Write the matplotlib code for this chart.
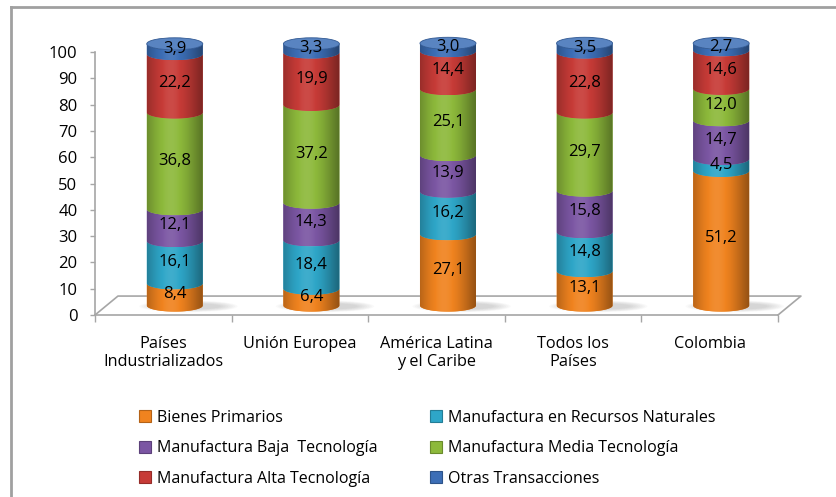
import numpy as np
import matplotlib
matplotlib.use("Agg")
import matplotlib.pyplot as plt
from matplotlib.path import Path
from matplotlib.patches import PathPatch, Ellipse
from matplotlib.lines import Line2D
from matplotlib.colors import to_rgb

plt.rcParams["font.family"] = ["Open Sans", "DejaVu Sans"]

# shares by product group (%)
categories = ["Países\nIndustrializados", "Unión Europea", "América Latina\ny el Caribe",
              "Todos los\nPaíses", "Colombia"]
series_names = ["Bienes Primarios", "Manufactura en Recursos Naturales",
                "Manufactura Baja  Tecnología", "Manufactura Media Tecnología",
                "Manufactura Alta Tecnología", "Otras Transacciones"]
bienes = [8.4, 6.4, 27.1, 13.1, 51.2]
recursos = [16.1, 18.4, 16.2, 14.8, 4.5]
baja = [12.1, 14.3, 13.9, 15.8, 14.7]
media = [36.8, 37.2, 25.1, 29.7, 12.0]
alta = [22.2, 19.9, 14.4, 22.8, 14.6]
otras = [3.9, 3.3, 3.0, 3.5, 2.7]
y_ticks = list(range(0, 101, 10))

series = [bienes, recursos, baja, media, alta, otras]
colors = ["#F0831F", "#2EA6C8", "#7B56A3", "#8DB93B", "#C73B37", "#3C6EB6"]
gray = "#A6A6A6"

# fake 3d: floor depth and cylinder size, in data units
depth_x, depth_y = 0.168, 7.2
rad, cap = 0.205, 2.3


def shaded(color, n=64):
    # horizontal lighting across the cylinder face
    t = np.linspace(0, 1, n)
    f = 0.74 + 0.3 * np.cos((t - 0.42) * 1.1 * np.pi)
    rgb = np.array(to_rgb(color))
    img = np.empty((1, n, 3))
    for i, v in enumerate(f):
        if v <= 1:
            img[0, i] = rgb * v
        else:
            img[0, i] = rgb + (1 - rgb) * (v - 1) * 2
    return np.clip(img, 0, 1)


def segment_path(cx, y0, y1):
    th = np.linspace(np.pi, 2 * np.pi, 40)
    lower = np.column_stack([cx + rad * np.cos(th), y0 + cap * np.sin(th)])
    upper = np.column_stack([cx + rad * np.cos(th[::-1]), y1 + cap * np.sin(th[::-1])])
    return Path(np.vstack([lower, upper, lower[:1]]), closed=True)


fig = plt.figure(figsize=(8.37, 4.97), dpi=100)
ppx = 136.6          # pixels per category
ppy = 2.63           # pixels per percent
ymax = 106
ax = fig.add_axes([95 / 837, (497 - 315) / 497, 5.2 * ppx / 837, ymax * ppy / 497])

base = depth_y / 2
for i in range(len(categories)):
    cx = i + 0.5 + depth_x / 2

    # soft shadow on the floor, pushed to the right
    for k in range(8):
        ax.add_patch(Ellipse((cx + 0.1, base - 0.3), 0.72 - k * 0.035, 4.4 - k * 0.3,
                             fc="#808080", ec="none", alpha=0.045, zorder=2))

    bottom = base
    for s, vals in enumerate(series):
        v = vals[i]
        top = bottom + v
        path = segment_path(cx, bottom, top)
        patch = PathPatch(path, fc=colors[s], ec="none", transform=ax.transData, zorder=3)
        ax.add_patch(patch)
        im = ax.imshow(shaded(colors[s]), extent=(cx - rad, cx + rad, bottom - cap, top),
                       aspect="auto", interpolation="bilinear", zorder=3.5)
        im.set_clip_path(patch)
        ax.text(cx, bottom + v / 2, f"{v:.1f}".replace(".", ","), ha="center", va="center",
                fontsize=12, color="black", zorder=5)
        bottom = top

    top_rgb = np.array(to_rgb(colors[-1]))
    ax.add_patch(Ellipse((cx, bottom), 2 * rad, 2 * cap,
                         fc=top_rgb + (1 - top_rgb) * 0.15, ec=top_rgb * 0.8, lw=0.6, zorder=4))

# floor outline
n = len(categories)
ax.plot([0, depth_x, n + depth_x, n], [0, depth_y, depth_y, 0], color=gray, lw=1.2,
        zorder=1, clip_on=False)

ax.set_xlim(0, 5.2)
ax.set_ylim(0, ymax)
for side in ["top", "right"]:
    ax.spines[side].set_visible(False)
ax.spines["left"].set_bounds(0, 100)
ax.spines["bottom"].set_bounds(0, n)
for side in ["left", "bottom"]:
    ax.spines[side].set_color(gray)
    ax.spines[side].set_linewidth(1.2)

ax.set_yticks(y_ticks)
ax.tick_params(axis="y", length=3.6, width=1, color=gray, pad=9.0, labelsize=12)
ax.set_xticks(range(n + 1))
ax.set_xticklabels([])
ax.set_xticks(np.arange(n) + 0.5, minor=True)
ax.set_xticklabels(categories, minor=True, ha="center", fontsize=11.7, linespacing=1.2)
ax.tick_params(axis="x", which="major", length=5, width=1, color=gray)
ax.tick_params(axis="x", which="minor", length=0, pad=15)

# chart frame
fig.add_artist(Line2D([11 / 837, 11 / 837], [0, 1 - 7 / 497], transform=fig.transFigure,
                      color="#A0A0A0", lw=2))
fig.add_artist(Line2D([11 / 837, 1], [1 - 7 / 497, 1 - 7 / 497], transform=fig.transFigure,
                      color="#A0A0A0", lw=2))

# legend in two columns
handles = [Line2D([], [], marker="s", ls="none", markersize=8.5, mfc=c,
                  mec=tuple(np.array(to_rgb(c)) * 0.75), mew=0.8) for c in colors]
for cols, xpos in [([0, 2, 4], 137), ([1, 3, 5], 428)]:
    fig.legend([handles[j] for j in cols], [series_names[j] for j in cols],
               loc="upper left", bbox_to_anchor=(xpos / 837, 1 - 410 / 497),
               frameon=False, borderpad=0, borderaxespad=0, handlelength=1.0,
               handletextpad=0.25, labelspacing=0.9, fontsize=11.5)

fig.savefig("out.png", dpi=100)
